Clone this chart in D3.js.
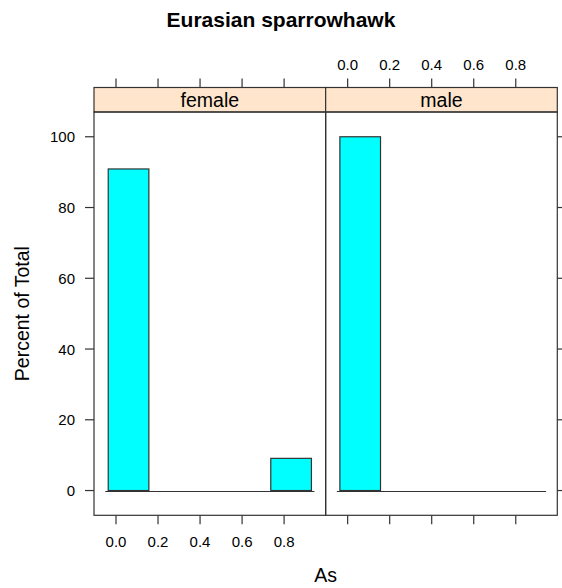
<!DOCTYPE html>
<html>
<head>
<meta charset="utf-8">
<script src="https://cdn.jsdelivr.net/npm/d3@7"></script>
<style>
  html, body { margin: 0; padding: 0; background: #fff; }
  svg { display: block; font-family: "Liberation Sans", Arial, sans-serif; }
</style>
</head>
<body>
<svg id="chart" width="562" height="588"></svg>
<script>
// ---- data ----
const title = "Eurasian sparrowhawk";
const panelNames = ["female", "male"];
const breaks = [-0.037, 0.1564, 0.3498, 0.5432, 0.7366, 0.930];
const femalePercent = [90.9, 0, 0, 0, 9.1];
const malePercent = [100, 0, 0, 0, 0];
const xTicks = [0, 0.2, 0.4, 0.6, 0.8];
const yTicks = [0, 20, 40, 60, 80, 100];
const xLabel = "As";
const yLabel = "Percent of Total";

const panelValues = [femalePercent, malePercent];

// ---- layout ----
const svg = d3.select("#chart");
const left = 94, right = 557.3;
const stripTop = 87.5, stripBottom = 112, panelBottom = 515.3;
const panelW = (right - left) / 2;
const lineCol = "#333";
const tickLen = 9;
const tickFont = 15;

const y = d3.scaleLinear().domain([-7, 107]).range([panelBottom, stripBottom]);
const xDomain = [-0.1047, 0.9977];

svg.append("text")
  .attr("x", 281).attr("y", 27)
  .attr("text-anchor", "middle")
  .attr("font-weight", "bold")
  .attr("font-size", 21)
  .attr("fill", "#000")
  .text(title);

panelNames.forEach((name, i) => {
  const x0 = left + i * panelW;
  const x = d3.scaleLinear().domain(xDomain).range([x0, x0 + panelW]);
  const g = svg.append("g");
  const vals = panelValues[i];
  const bins = vals.map((v, k) => ({ x0: breaks[k], x1: breaks[k + 1], v }));

  // baseline (zero-height bars)
  g.append("line")
    .attr("x1", x(breaks[0]) - 3).attr("x2", x(breaks[breaks.length - 1]) + 3)
    .attr("y1", Math.round(y(0)) + 0.5).attr("y2", Math.round(y(0)) + 0.5)
    .attr("stroke", lineCol).attr("stroke-width", 1.2);

  g.selectAll("rect.bar").data(bins.filter(d => d.v > 0)).enter()
    .append("rect").attr("class", "bar")
    .attr("x", d => x(d.x0))
    .attr("width", d => x(d.x1) - x(d.x0))
    .attr("y", d => y(d.v))
    .attr("height", d => y(0) - y(d.v))
    .attr("fill", "#00FFFF")
    .attr("stroke", lineCol).attr("stroke-width", 1.2);

  // strip
  g.append("rect")
    .attr("x", x0).attr("y", stripTop)
    .attr("width", panelW).attr("height", stripBottom - stripTop)
    .attr("fill", "#FFE5CC").attr("stroke", lineCol).attr("stroke-width", 1.2);
  g.append("text")
    .attr("x", x0 + panelW / 2).attr("y", stripBottom - 5.5)
    .attr("text-anchor", "middle").attr("font-size", 19.5).attr("fill", "#000")
    .text(name);

  // panel box
  g.append("rect")
    .attr("x", x0).attr("y", stripBottom)
    .attr("width", panelW).attr("height", panelBottom - stripBottom)
    .attr("fill", "none").attr("stroke", lineCol).attr("stroke-width", 1.2);

  // x ticks: bottom and top
  xTicks.forEach(t => {
    g.append("line")
      .attr("x1", x(t)).attr("x2", x(t))
      .attr("y1", panelBottom).attr("y2", panelBottom + tickLen)
      .attr("stroke", lineCol).attr("stroke-width", 1.2);
    g.append("line")
      .attr("x1", x(t)).attr("x2", x(t))
      .attr("y1", stripTop).attr("y2", stripTop - tickLen)
      .attr("stroke", lineCol).attr("stroke-width", 1.2);
  });
  if (i === 0) {
    g.selectAll("text.xb").data(xTicks).enter().append("text")
      .attr("x", d => x(d)).attr("y", 547)
      .attr("text-anchor", "middle").attr("font-size", tickFont).attr("fill", "#000")
      .text(d => d3.format(".1f")(d));
  } else {
    g.selectAll("text.xt").data(xTicks).enter().append("text")
      .attr("x", d => x(d)).attr("y", 69.5)
      .attr("text-anchor", "middle").attr("font-size", tickFont).attr("fill", "#000")
      .text(d => d3.format(".1f")(d));
  }
});

// y ticks left (labelled) and right (unlabelled)
yTicks.forEach(t => {
  svg.append("line")
    .attr("x1", left - tickLen).attr("x2", left)
    .attr("y1", y(t)).attr("y2", y(t))
    .attr("stroke", lineCol).attr("stroke-width", 1.2);
  svg.append("line")
    .attr("x1", right).attr("x2", right + tickLen)
    .attr("y1", y(t)).attr("y2", y(t))
    .attr("stroke", lineCol).attr("stroke-width", 1.2);
});
svg.selectAll("text.yl").data(yTicks).enter().append("text")
  .attr("x", 75).attr("y", d => y(d) + 5.5)
  .attr("text-anchor", "end").attr("font-size", tickFont).attr("fill", "#000")
  .text(d => d);

// axis labels
svg.append("text")
  .attr("x", (left + right) / 2).attr("y", 582)
  .attr("text-anchor", "middle").attr("font-size", 19.5).attr("fill", "#000")
  .text(xLabel);
svg.append("text")
  .attr("transform", `translate(29, ${(stripBottom + panelBottom) / 2}) rotate(-90)`)
  .attr("text-anchor", "middle").attr("font-size", 19.5).attr("fill", "#000")
  .text(yLabel);
</script>
</body>
</html>
